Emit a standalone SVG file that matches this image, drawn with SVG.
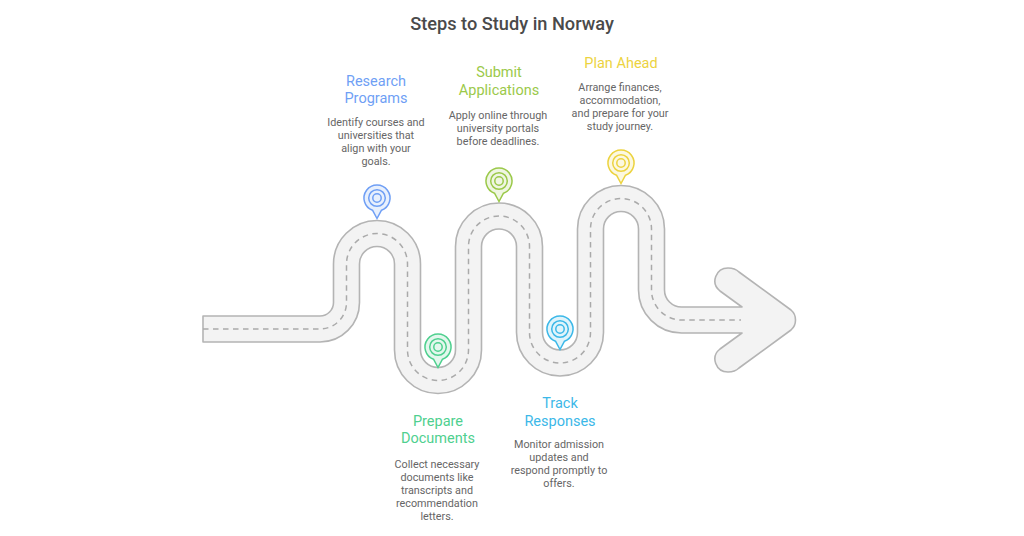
<svg xmlns="http://www.w3.org/2000/svg" width="1024" height="536" viewBox="0 0 1024 536">
<style>
text{font-family:Roboto,"Liberation Sans",sans-serif;text-anchor:middle}
.title{font-size:18.2px;font-weight:500;fill:#4a4a4a}
.h{font-size:14.5px}
.b{font-size:10.8px;fill:#666}
.road{fill:#f3f3f3;stroke:#b4b4b4;stroke-width:1.6;stroke-linejoin:round}
.dash{fill:none;stroke:#aaa;stroke-width:1.5;stroke-dasharray:5.5 4.5}
.pin path{stroke:currentColor;stroke-width:1.5;fill:currentColor;fill-opacity:.16}
.pin circle{fill:none;stroke:currentColor;stroke-width:1.5}
</style>
<defs>
<g id="pin" class="pin">
<path d="M-4.5,12.2A13,13 0 1 1 4.5,12.2L0,20.5Z"/>
<circle r="8.3"/>
<circle r="4.2"/>
</g>
</defs>
<rect width="1024" height="536" fill="#fff"/>
<text class="title" x="512" y="30">Steps to Study in Norway</text>
<g id="connectors">
<path class="road" d="M203,316H320A13.5,13.5 0 0 0 333.5,302.5V264A43.5,43.5 0 0 1 420.5,264V350A17.5,17.5 0 0 0 455.5,350V246.5A43.5,43.5 0 0 1 542.5,246.5V332.5A17.5,17.5 0 0 0 577.5,332.5V229A43.5,43.5 0 0 1 664.5,229V290A17,17 0 0 0 681.5,307H742L720,291C710,283 716,268 728,268C732,268 736,269 739,272L791,310C797,315 797,325 791,330L739,368C736,371 732,372 728,372C716,372 710,357 720,349L742,333H681.5A43,43 0 0 1 638.5,290V229A17.5,17.5 0 0 0 603.5,229V332.5A43.5,43.5 0 0 1 516.5,332.5V246.5A17.5,17.5 0 0 0 481.5,246.5V350A43.5,43.5 0 0 1 394.5,350V264A17.5,17.5 0 0 0 359.5,264V302.5A39.5,39.5 0 0 1 320,342H203Z"/>
<path class="dash" d="M203,329H320A26.5,26.5 0 0 0 346.5,302.5V264A30.5,30.5 0 0 1 407.5,264V350A30.5,30.5 0 0 0 468.5,350V246.5A30.5,30.5 0 0 1 529.5,246.5V332.5A30.5,30.5 0 0 0 590.5,332.5V229A30.5,30.5 0 0 1 651.5,229V290A30,30 0 0 0 681.5,320H741"/>
</g>
<g id="research" color="#6f9ff5">
<use href="#pin" x="377" y="198"/>
<text class="h" fill="#6f9ff5"><tspan x="376" y="86">Research</tspan><tspan x="376" y="103">Programs</tspan></text>
<text class="b"><tspan x="376" y="126">Identify courses and</tspan><tspan x="376" y="139">universities that</tspan><tspan x="376" y="152">align with your</tspan><tspan x="376" y="165">goals.</tspan></text>
</g>
<g id="prepare" color="#4fd08f">
<use href="#pin" x="438" y="347"/>
<text class="h" fill="#4fd08f"><tspan x="438" y="426">Prepare</tspan><tspan x="438" y="443">Documents</tspan></text>
<text class="b"><tspan x="437" y="468">Collect necessary</tspan><tspan x="437" y="481">documents like</tspan><tspan x="437" y="494">transcripts and</tspan><tspan x="437" y="507">recommendation</tspan><tspan x="437" y="520">letters.</tspan></text>
</g>
<g id="submit" color="#9bc94a">
<use href="#pin" x="499" y="181"/>
<text class="h" fill="#9bc94a"><tspan x="499" y="77">Submit</tspan><tspan x="499" y="95">Applications</tspan></text>
<text class="b"><tspan x="498" y="119">Apply online through</tspan><tspan x="498" y="132">university portals</tspan><tspan x="498" y="145">before deadlines.</tspan></text>
</g>
<g id="track" color="#3cb8e8">
<use href="#pin" x="560" y="329"/>
<text class="h" fill="#3cb8e8"><tspan x="560" y="408">Track</tspan><tspan x="560" y="426">Responses</tspan></text>
<text class="b"><tspan x="559" y="448">Monitor admission</tspan><tspan x="559" y="461">updates and</tspan><tspan x="559" y="474">respond promptly to</tspan><tspan x="559" y="487">offers.</tspan></text>
</g>
<g id="plan" color="#ecd33f">
<use href="#pin" x="621" y="163"/>
<text class="h" fill="#ecd33f"><tspan x="621" y="68">Plan Ahead</tspan></text>
<text class="b"><tspan x="620" y="91">Arrange finances,</tspan><tspan x="620" y="104">accommodation,</tspan><tspan x="620" y="117">and prepare for your</tspan><tspan x="620" y="130">study journey.</tspan></text>
</g>
</svg>
